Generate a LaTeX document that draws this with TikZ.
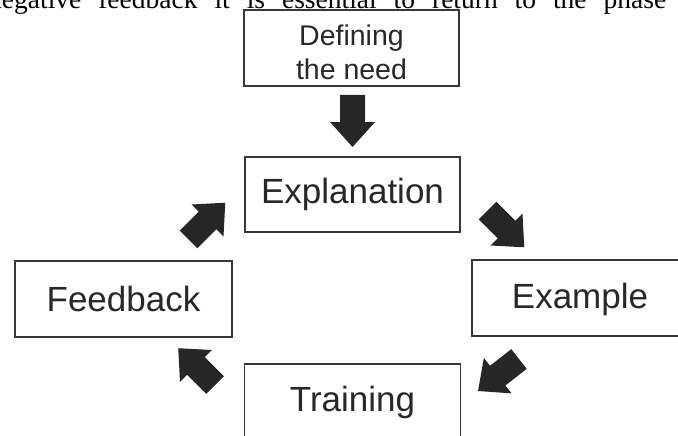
\documentclass[tikz,border=0pt]{standalone}
\usepackage{fontspec}
\setmainfont{Liberation Serif}
\setsansfont{Liberation Sans}
\definecolor{boxline}{RGB}{55,55,55}
\definecolor{boxtext}{RGB}{40,40,40}
\definecolor{arrowfill}{RGB}{38,38,38}
\tikzset{
  stage/.style={draw=boxline, line width=1.8pt, rectangle, inner sep=0pt,
    minimum width=215pt, minimum height=75pt, text=boxtext,
    font=\sffamily\fontsize{35}{42}\selectfont, text height=25pt, text depth=0pt},
  blockarrow/.pic={
    \fill[arrowfill] (0,-12.5) -- (27,-12.5) -- (27,-22.5) -- (52,0)
      -- (27,22.5) -- (27,12.5) -- (0,12.5) -- cycle;
  }
}
\begin{document}
\begin{tikzpicture}[x=1pt, y=-1pt]
  \clip (0,0) rectangle (678,436);
  \fill[white] (0,0) rectangle (678,436);

  % running text above the figure
  \node[anchor=base west, inner sep=0pt, font=\fontsize{27.5}{33}\selectfont] (para) at (-12,8.5)
    {\makebox[678pt][s]{negative feedback it is essential to return to the phase}};

  % stages of the cycle
  \node[stage, minimum height=76pt, align=center, font=\sffamily\fontsize{28.5}{34}\selectfont,
        text height=64pt, text depth=0pt] (need) at (351.5,48) {Defining\\the need};
  \node[stage, text depth=8pt] (expl) at (352.5,194.5) {Explanation};
  \node[stage, minimum width=217pt, minimum height=76pt] (feed) at (123.5,299) {Feedback};
  \node[stage, minimum width=216pt, minimum height=76pt, text depth=5pt] (exam) at (580,298) {Example};
  \node[stage, minimum width=216pt, minimum height=76pt, text depth=6pt] (train) at (352.5,402) {Training};

  % block arrows around the cycle
  \pic[rotate=-90] at (352.5,95) {blockarrow};
  \pic[rotate=-45] at (487.5,210.5) {blockarrow};
  \pic[rotate=218] at (519,359) {blockarrow};
  \pic[rotate=135] at (215,385) {blockarrow};
  \pic[rotate=45] at (188.5,239.5) {blockarrow};
\end{tikzpicture}
\end{document}
